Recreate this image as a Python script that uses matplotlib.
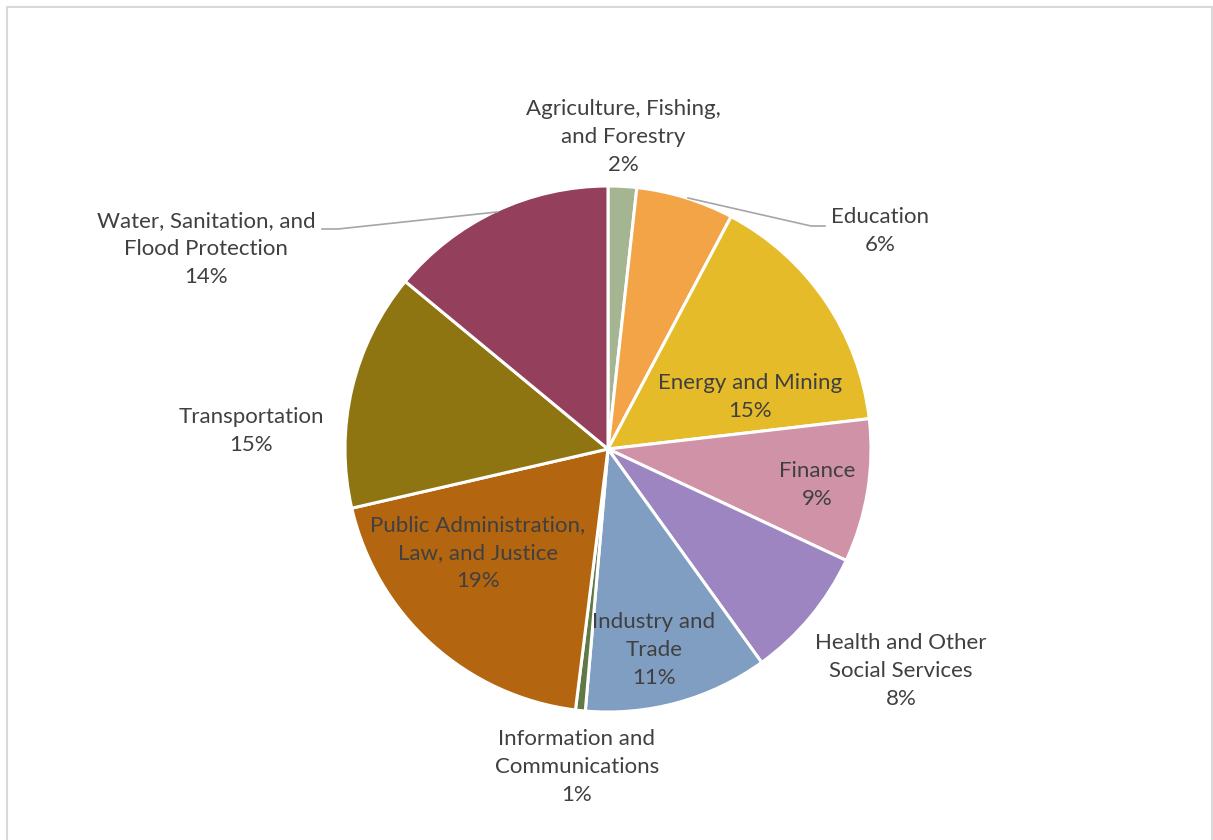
import matplotlib.pyplot as plt
from matplotlib.patches import Rectangle

# sector shares (percent), clockwise from 12 o'clock
sectors = ['Agriculture, Fishing,\nand Forestry', 'Education', 'Energy and Mining',
           'Finance', 'Health and Other\nSocial Services', 'Industry and\nTrade',
           'Information and\nCommunications', 'Public Administration,\nLaw, and Justice',
           'Transportation', 'Water, Sanitation, and\nFlood Protection']
shares = [1.75, 6.0, 15.4, 8.8, 8.1, 11.3, 0.6, 19.4, 14.6, 14.0]
colors = ['#A5B592', '#F3A447', '#E5BB2A', '#D092A7', '#9C85C0',
          '#809EC2', '#5F7A45', '#B3650F', '#8F7511', '#943F5C']

# label centres in pixel space (x, y from top)
label_pos = [(623, 137), (880, 231), (750, 397), (817, 485), (901, 671),
             (654, 650), (577, 767), (478, 553), (251, 431), (206, 249)]

W, H = 1213, 840
fig = plt.figure(figsize=(W / 100, H / 100), dpi=100)
ax = fig.add_axes([0, 0, 1, 1])

cx, cy, r = 608, H - 449, 263
ax.pie(shares, colors=colors, startangle=90, counterclock=False,
       center=(cx, cy), radius=r, frame=True,
       wedgeprops=dict(edgecolor='white', linewidth=2.2))
ax.set_xlim(0, W)
ax.set_ylim(0, H)
ax.set_aspect('equal')
ax.axis('off')

for name, v, (x, y) in zip(sectors, shares, label_pos):
    ax.text(x, H - y, f'{name}\n{round(v)}%', ha='center', va='center',
            fontsize=16, family='Lato', color='#404040', linespacing=1.5)

# leader lines
ax.plot([688, 811, 825], [H - 198, H - 226, H - 226], color='#A6A6A6', lw=1.2)
ax.plot([497, 338, 322], [H - 212, H - 229, H - 229], color='#A6A6A6', lw=1.2)

ax.add_patch(Rectangle((6.5, -10), 1205, H - 6.5 + 10, fill=False,
                       edgecolor='#D9D9D9', lw=1.5))

fig.savefig('out.png', dpi=100)
